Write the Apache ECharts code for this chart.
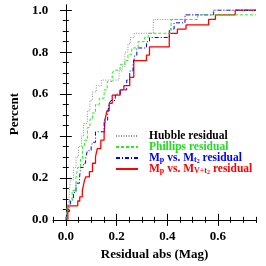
<!DOCTYPE html>
<html><head><meta charset="utf-8">
<script src="https://cdn.jsdelivr.net/npm/echarts@6/dist/echarts.min.js"></script>
<style>html,body{margin:0;padding:0;background:#fff}#c{width:266px;height:266px}</style>
</head><body><div id="c"></div>
<script>
// Step-curve corner points [residual, cumulative fraction]
const hubble = [[0,0],[0.005,0.05],[0.012,0.1],[0.018,0.19],[0.03,0.25],[0.04,0.3],[0.05,0.35],[0.062,0.4],[0.07,0.46],[0.085,0.52],[0.095,0.57],[0.105,0.61],[0.12,0.64],[0.14,0.667],[0.21,0.71],[0.222,0.73],[0.233,0.8],[0.245,0.84],[0.255,0.87],[0.27,0.89],[0.345,0.956],[0.47,0.978],[0.58,1.0],[0.75,1.0]];
const phillips = [[0,0],[0.005,0.06],[0.015,0.1],[0.025,0.14],[0.04,0.2],[0.047,0.25],[0.058,0.29],[0.066,0.35],[0.074,0.38],[0.085,0.44],[0.095,0.48],[0.105,0.51],[0.117,0.55],[0.132,0.58],[0.151,0.62],[0.163,0.66],[0.183,0.7],[0.19,0.714],[0.214,0.74],[0.233,0.76],[0.245,0.79],[0.26,0.82],[0.285,0.85],[0.31,0.87],[0.325,0.89],[0.415,0.956],[0.52,0.978],[0.75,0.978]];
const mpMt = [[0,0],[0.005,0.04],[0.015,0.06],[0.02,0.095],[0.03,0.13],[0.04,0.175],[0.054,0.2],[0.058,0.25],[0.07,0.27],[0.078,0.295],[0.085,0.33],[0.1,0.35],[0.105,0.37],[0.117,0.42],[0.151,0.476],[0.165,0.51],[0.171,0.556],[0.178,0.57],[0.195,0.6],[0.214,0.62],[0.24,0.667],[0.252,0.71],[0.265,0.74],[0.272,0.785],[0.28,0.82],[0.318,0.85],[0.33,0.87],[0.408,0.91],[0.427,0.94],[0.47,0.978],[0.583,1.0],[0.75,1.0]];
const mpMvt = [[0.008,0],[0.008,0.067],[0.047,0.09],[0.055,0.11],[0.065,0.14],[0.072,0.18],[0.078,0.205],[0.093,0.23],[0.105,0.27],[0.117,0.3],[0.124,0.34],[0.138,0.38],[0.151,0.41],[0.155,0.48],[0.162,0.52],[0.171,0.556],[0.183,0.595],[0.214,0.62],[0.229,0.64],[0.252,0.68],[0.268,0.76],[0.318,0.786],[0.33,0.825],[0.408,0.89],[0.44,0.91],[0.474,0.93],[0.563,0.956],[0.59,0.978],[0.668,1.0],[0.75,1.0]];

const xMajor = [0, 0.2, 0.4, 0.6];
const xMinor = [-0.05,0,0.05,0.1,0.15,0.2,0.25,0.3,0.35,0.4,0.45,0.5,0.55,0.6,0.65,0.7,0.75];
const yMajor = [0, 0.2, 0.4, 0.6, 0.8, 1.0];
const yMinor = [0,0.05,0.1,0.15,0.2,0.25,0.3,0.35,0.4,0.45,0.5,0.55,0.6,0.65,0.7,0.75,0.8,0.85,0.9,0.95,1.0];

const names = ['Hubble residual','Phillips residual','Mp vs. Mt residual','Mp vs. Mvt residual'];
const colors = ['#909090','#22ee22','#0000ff','#ff0000'];

const FONT = 'Liberation Serif';
const XMIN = -0.05, XMAX = 0.75, YMIN = -0.015, YMAX = 1.025;

function xAx(pos, ticks, len, labels, line){
  return {type:'value', position:pos, min:XMIN, max:XMAX, splitLine:{show:false},
    axisLine:{show:line, lineStyle:{color:'#000', width:1}},
    axisTick:{show:true, inside:true, length:len, customValues:ticks, lineStyle:{color:'#000', width:1}},
    axisLabel:{show:labels, customValues:xMajor, formatter:v=>v.toFixed(1), fontFamily:FONT, fontWeight:'bold', fontSize:13, color:'#000', margin:7},
    name: labels ? 'Residual abs (Mag)' : '', nameLocation:'middle', nameGap:23,
    nameTextStyle:{fontFamily:FONT, fontWeight:'bold', fontSize:13, color:'#000'}};
}
function yAx(pos, ticks, len, labels, line){
  return {type:'value', position:pos, min:YMIN, max:YMAX, splitLine:{show:false},
    axisLine:{show:line, lineStyle:{color:'#000', width:1}},
    axisTick:{show:true, inside:true, length:len, customValues:ticks, lineStyle:{color:'#000', width:1}},
    axisLabel:{show:labels, customValues:yMajor, formatter:v=>v.toFixed(1), fontFamily:FONT, fontWeight:'bold', fontSize:13, color:'#000', margin:5},
    name: labels ? 'Percent' : '', nameLocation:'middle', nameGap:31, nameRotate:90,
    nameTextStyle:{fontFamily:FONT, fontWeight:'bold', fontSize:13, color:'#000'}};
}

const base = {fontFamily:FONT, fontWeight:'bold', fontSize:11.5, lineHeight:10};
const sub = {fontFamily:FONT, fontWeight:'bold', fontSize:8, lineHeight:10, padding:[4,0,0,0]};
const sub2 = {fontFamily:FONT, fontWeight:'bold', fontSize:6, lineHeight:10, padding:[6,0,0,0]};
const rich = {
  k:Object.assign({}, base, {color:'#000'}),
  g:Object.assign({}, base, {color:'#22dd22'}),
  b:Object.assign({}, base, {color:'#0000ff'}),
  bs:Object.assign({}, sub, {color:'#0000ff'}),
  bss:Object.assign({}, sub2, {color:'#0000ff'}),
  r:Object.assign({}, base, {color:'#ff0000'}),
  rs:Object.assign({}, sub, {color:'#ff0000'}),
  rss:Object.assign({}, sub2, {color:'#ff0000'})
};
function legendFmt(n){
  if(n===names[0]) return '{k|Hubble residual}';
  if(n===names[1]) return '{g|Phillips residual}';
  if(n===names[2]) return '{b|M}{bs|p}{b| vs. M}{bs|t}{bss|2}{b| residual}';
  return '{r|M}{rs|p}{r| vs. M}{rs|V+t}{rss|2}{r| residual}';
}

const styles = [
  {color:colors[0], width:1, type:[1,1.5]},
  {color:colors[1], width:1, type:[3,2]},
  {color:colors[2], width:1, type:[4,2,1,2]},
  {color:colors[3], width:1.3, type:'solid'}
];
const datas = [hubble, phillips, mpMt, mpMvt];

const chart = echarts.init(document.getElementById('c'), null, {renderer:'canvas'});
chart.setOption({
  animation:false,
  backgroundColor:'#fff',
  grid:{left:51, right:10, top:5, bottom:43, containLabel:false},
  xAxis:[xAx('bottom', xMajor, 6, true, true), xAx('bottom', xMinor, 3, false, false),
         xAx('top', xMajor, 6, false, true), xAx('top', xMinor, 3, false, false)],
  yAxis:[yAx('left', yMajor, 6, true, true), yAx('left', yMinor, 3, false, false),
         yAx('right', yMajor, 6, false, true), yAx('right', yMinor, 3, false, false)],
  legend:{orient:'vertical', left:115, top:130, itemWidth:22, itemHeight:8, itemGap:-1,
    data:names, formatter:legendFmt, selectedMode:false,
    itemStyle:{opacity:0},
    textStyle:{rich:rich, fontFamily:FONT, fontWeight:'bold', fontSize:11.5, lineHeight:10, padding:[0,0,0,6]}, padding:0},
  series: datas.map((d,i)=>({
    name:names[i], type:'line', step:'end', data:d, symbol:'none', xAxisIndex:0, yAxisIndex:0,
    lineStyle:styles[i], itemStyle:{color:colors[i]}, z: 10-i
  }))
});
</script></body></html>
